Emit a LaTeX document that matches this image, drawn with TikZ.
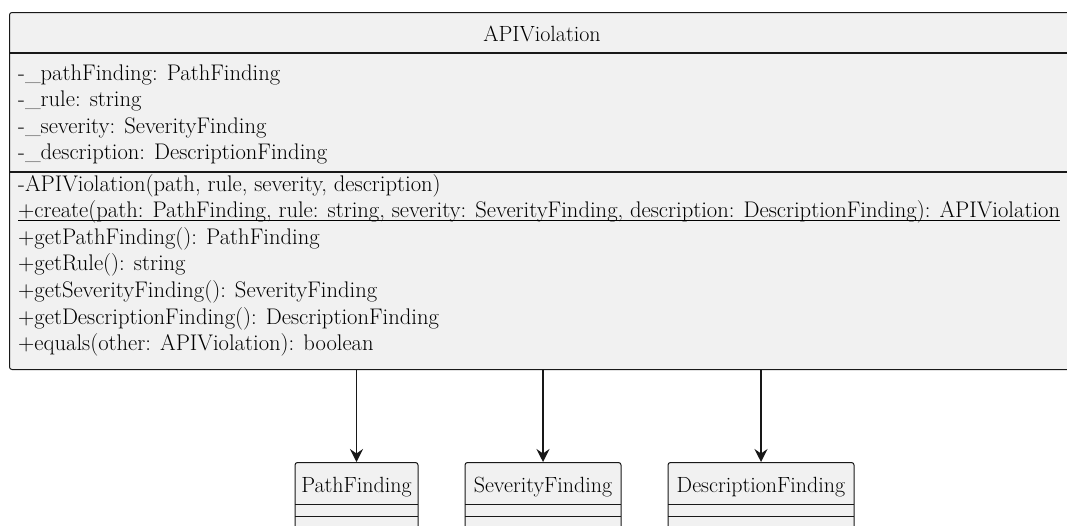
\documentclass[tikz,border=0pt]{standalone}
\usetikzlibrary{arrows.meta}
\definecolor{boxfill}{HTML}{F1F1F1}
\definecolor{boxline}{HTML}{181818}
\begin{document}
\begin{tikzpicture}[x=1pt,y=-1pt,
  classbox/.style={draw=boxline, fill=boxfill, line width=1pt, rounded corners=2.5pt, inner sep=0pt},
  sepline/.style={draw=boxline, line width=1.3pt},
  member/.style={anchor=base west, inner sep=0pt, text=black, font=\fontsize{22.6}{26}\selectfont},
  cname/.style={anchor=base, inner sep=0pt, text=black, font=\fontsize{22}{26}\selectfont},
  assoc/.style={draw=boxline, line width=1.4pt, -{Stealth[length=13pt,width=13pt,inset=4.5pt]}}]
\useasboundingbox (0,0) rectangle (1067,525);
\path[clip] (0,0) rectangle (1067,525);
% main class box
\node[classbox, anchor=north west, minimum width=1066pt, minimum height=357pt] (main) at (9,12) {};
\node[cname] (title) at (542,41) {APIViolation};
\draw[sepline] (9,53) -- (1075,53);
\draw[sepline] (9,172) -- (1075,172);
% attributes
\node[member] (a1) at (18,80) {-\_pathFinding: PathFinding};
\node[member] (a2) at (18,106.6) {-\_rule: string};
\node[member] (a3) at (18,133.2) {-\_severity: SeverityFinding};
\node[member] (a4) at (18,159.8) {-\_description: DescriptionFinding};
% methods
\node[member] (m1) at (18,191) {-APIViolation(path, rule, severity, description)};
\node[member] (m2) at (18,217.6) {+create(path: PathFinding, rule: string, severity: SeverityFinding, description: DescriptionFinding): APIViolation};
\draw[line width=1.1pt] ([yshift=-2.5pt]m2.base west) -- ([yshift=-2.5pt]m2.base east);
\node[member] (m3) at (18,244.2) {+getPathFinding(): PathFinding};
\node[member] (m4) at (18,270.8) {+getRule(): string};
\node[member] (m5) at (18,297.4) {+getSeverityFinding(): SeverityFinding};
\node[member] (m6) at (18,324) {+getDescriptionFinding(): DescriptionFinding};
\node[member] (m7) at (18,350.6) {+equals(other: APIViolation): boolean};
% small classes
\node[classbox, anchor=north, minimum width=123pt, minimum height=80pt] (pf) at (356.5,462) {};
\node[cname] (pfn) at (356.5,492) {PathFinding};
\draw[sepline, line width=1pt] (295,504) -- (418,504) (295,516) -- (418,516);
\node[classbox, anchor=north, minimum width=156pt, minimum height=80pt] (sf) at (543,462) {};
\node[cname] (sfn) at (543,492) {SeverityFinding};
\draw[sepline, line width=1pt] (465,504) -- (621,504) (465,516) -- (621,516);
\node[classbox, anchor=north, minimum width=186pt, minimum height=80pt] (df) at (761,462) {};
\node[cname] (dfn) at (761,492) {DescriptionFinding};
\draw[sepline, line width=1pt] (668,504) -- (854,504) (668,516) -- (854,516);
% associations
\draw[assoc] (pf.north |- main.south) -- (pf.north);
\draw[assoc] (sf.north |- main.south) -- (sf.north);
\draw[assoc] (df.north |- main.south) -- (df.north);
\end{tikzpicture}
\end{document}
